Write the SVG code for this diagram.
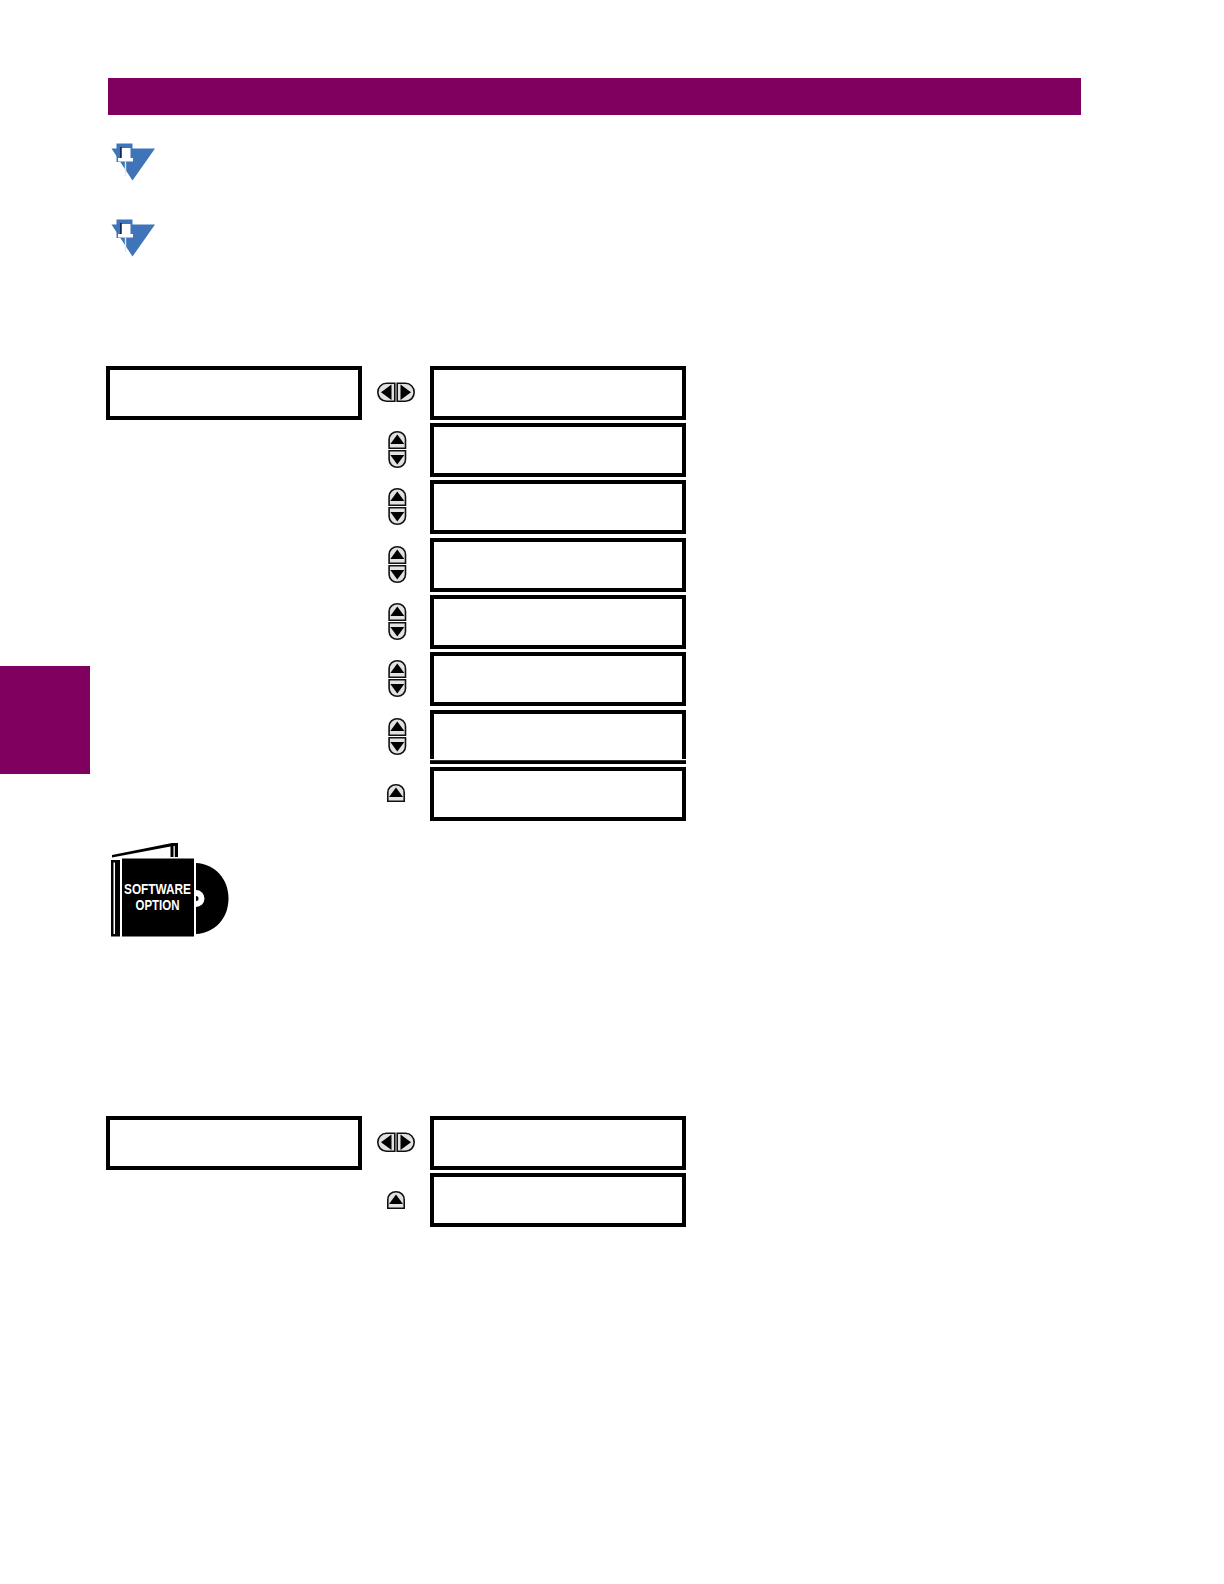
<svg xmlns="http://www.w3.org/2000/svg" width="1224" height="1584" viewBox="0 0 1224 1584">
<style>
.band{fill:#80005f}
.box{fill:#fff;stroke:#000;stroke-width:4}
.btn{fill:#e2e2e2;stroke:#111;stroke-width:1.600}
.blue{fill:#3f75b8}
.sw{font-family:"Liberation Sans",Arial,sans-serif;font-weight:700;fill:#fff;text-anchor:middle}
</style>
<defs>
<g id="up"><path class="btn" d="M0.800 17.200V8.500C0.800 4 4.500 0.800 9 0.800S17.200 4 17.200 8.500V17.200Z"/><path d="M9 3.500L16 13H2Z" fill="#000"/></g>
<g id="down"><path class="btn" d="M0.800 0.800V9.500C0.800 14 4.500 17.200 9 17.200S17.200 14 17.200 9.500V0.800Z"/><path d="M9 14.500L16 5H2Z" fill="#000"/></g>
<g id="ud"><use href="#up"/><use href="#down" y="19"/></g>
<g id="lr">
<path class="btn" d="M17.800 0.800H9.500C4.500 0.800 0.800 5 0.800 9.800S4.500 18.800 9.500 18.800H17.800Z"/><path d="M14.500 2V17.600L4 9.800Z" fill="#000"/>
<path class="btn" d="M20.200 0.800H28.500C33.500 0.800 37.200 5 37.200 9.800S33.500 18.800 28.500 18.800H20.200Z"/><path d="M23.500 2V17.600L34 9.800Z" fill="#000"/>
</g>
<g id="pin">
<path class="blue" d="M111.500 148.500H155L132.500 180.500Z"/>
<path class="blue" d="M116.500 143.500H132.500V162H116.500Z"/>
<path d="M120 147H121.800V158H120Z" fill="#12284f"/>
<path d="M121.800 148H130.500V158H121.800Z" fill="#fff"/>
<path d="M118 158H133V161.500H118Z" fill="#fff"/>
<path d="M125.500 161.500V176" stroke="#dfe8f4" stroke-width="1.400" fill="none"/>
</g>
</defs>
<rect class="band" x="108" y="78" width="973" height="37"/>
<rect class="band" x="0" y="666" width="90" height="108"/>
<g id="note-1"><use href="#pin"/></g>
<g id="note-2"><use href="#pin" y="76"/></g>
<g id="connectors"/>
<g id="box-a"><rect class="box" x="108" y="368" width="252" height="50"/></g>
<g id="box-a1"><rect class="box" x="432" y="368" width="252" height="50"/></g>
<g id="box-a2"><rect class="box" x="432" y="425" width="252" height="50"/></g>
<g id="box-a3"><rect class="box" x="432" y="482" width="252" height="50"/></g>
<g id="box-a4"><rect class="box" x="432" y="540" width="252" height="50"/></g>
<g id="box-a5"><rect class="box" x="432" y="597" width="252" height="50"/></g>
<g id="box-a6"><rect class="box" x="432" y="654" width="252" height="50"/></g>
<g id="box-a7"><rect class="box" x="432" y="712" width="252" height="50"/><rect x="430" y="759" width="256" height="1.200" fill="#fff"/></g>
<g id="box-a8"><rect class="box" x="432" y="769" width="252" height="50"/></g>
<g id="btn-a1"><use href="#lr" x="377" y="382.500"/></g>
<use id="btn-a2" href="#ud" x="388.300" y="431"/>
<use id="btn-a3" href="#ud" x="388.300" y="488"/>
<use id="btn-a4" href="#ud" x="388.300" y="546"/>
<use id="btn-a5" href="#ud" x="388.300" y="603"/>
<use id="btn-a6" href="#ud" x="388.300" y="660"/>
<use id="btn-a7" href="#ud" x="388.300" y="718"/>
<use id="btn-a8" href="#up" x="387" y="784"/>
<g id="software-option">
<path d="M112 855L172 843H178V857H170.500V846.500L112 857.500Z" fill="#000"/>
<path d="M173.500 846H174.800V857H173.500Z" fill="#fff"/>
<path d="M111 860H120V936.500H111Z" fill="#000"/>
<path d="M113.500 862.500H115V934H113.500Z" fill="#fff"/>
<path d="M196 863C215 864 228.500 879 228.500 898.500S215 933 196 934Z" fill="#000"/>
<path d="M196 890A8 8 0 0 1 196 907Z" fill="#fff"/>
<path d="M196 896A2.500 2.500 0 0 1 196 901Z" fill="#000"/>
<rect x="121.500" y="858" width="73" height="79" fill="#000" stroke="#fff" stroke-width="1"/>
<text class="sw" x="157.500" y="894" font-size="15" textLength="67" lengthAdjust="spacingAndGlyphs">SOFTWARE</text>
<text class="sw" x="157.500" y="910" font-size="15" textLength="44" lengthAdjust="spacingAndGlyphs">OPTION</text>
</g>
<g id="box-b"><rect class="box" x="108" y="1118" width="252" height="50"/></g>
<g id="box-b1"><rect class="box" x="432" y="1118" width="252" height="50"/></g>
<g id="box-b2"><rect class="box" x="432" y="1175" width="252" height="50"/></g>
<use id="btn-b1" href="#lr" x="377" y="1132.500"/>
<use id="btn-b2" href="#up" x="387" y="1191"/>
</svg>
